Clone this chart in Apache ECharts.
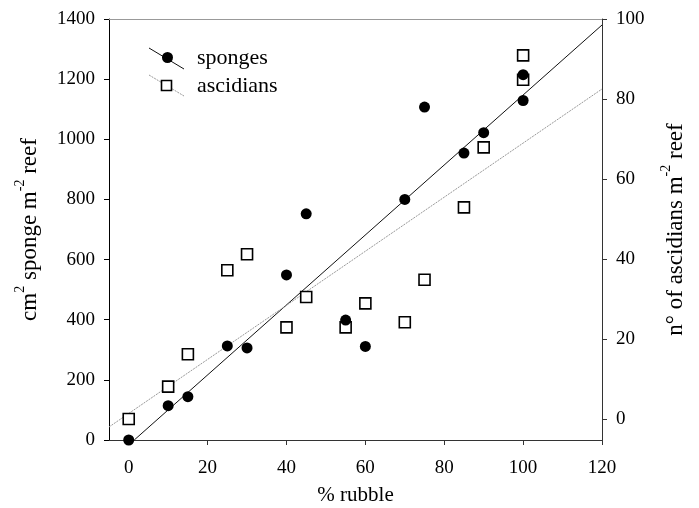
<!DOCTYPE html>
<html><head><meta charset="utf-8">
<script src="https://cdn.jsdelivr.net/npm/echarts@6/dist/echarts.min.js"></script>
<style>html,body{margin:0;padding:0;background:#fff}#c{width:699px;height:508px}</style>
</head><body><div id="c"></div>
<script>
// data
const spongeRubble = [0,10,15,25,30,40,45,55,60,70,75,85,90,100,100];
const spongeCover  = [0,114,144,313,306,549,752,399,311,800,1107,954,1022,1215,1129];
const ascRubble    = [0,10,15,25,30,40,45,55,60,70,75,85,90,100,100];
const ascDensity   = [0,8.1,16.2,37.2,41.2,22.9,30.5,22.9,28.9,24.2,34.8,52.9,67.9,84.8,90.9];
const spongeFitX = [1.4,120];
const spongeFitY = [0,1380];
const ascFitX = [-5,120];
const ascFitY = [-2,82.5];
const xTicks = [0,20,40,60,80,100,120];
const rightTicks = [0,20,40,60,80,100];

const FONT = '"Liberation Serif", "DejaVu Serif", serif';
const zip = (a,b) => a.map((v,i)=>[v,b[i]]);

const chart = echarts.init(document.getElementById('c'), null, {renderer:'canvas'});
const nameRich = {
  n:{fontFamily:FONT,fontSize:23,color:'#000',lineHeight:28,verticalAlign:'bottom'},
  s:{fontFamily:FONT,fontSize:14,color:'#000',lineHeight:28,verticalAlign:'top'}
};
chart.setOption({
  animation:false,
  backgroundColor:'#fff',
  grid:{left:109,right:97,top:19,bottom:68,containLabel:false,outerBoundsMode:'none'},
  xAxis:[{
    type:'value',min:-5,max:120,position:'bottom',
    name:'% rubble',nameLocation:'middle',nameGap:45,
    nameTextStyle:{fontFamily:FONT,fontSize:21,color:'#000'},
    axisLine:{show:true,lineStyle:{color:'#333',width:1}},
    axisTick:{show:true,inside:false,length:5,customValues:xTicks,lineStyle:{color:'#333'}},
    axisLabel:{customValues:xTicks,fontFamily:FONT,fontSize:19,color:'#000',margin:19},
    splitLine:{show:false}
  },{
    type:'value',min:-5,max:120,position:'top',
    axisLine:{show:true,onZero:false,lineStyle:{color:'#999',width:1}},
    axisTick:{show:false},axisLabel:{show:false},splitLine:{show:false}
  }],
  yAxis:[{
    type:'value',min:0,max:1400,interval:200,position:'left',
    name:'{n|cm}{s|2}{n| sponge m}{s|-2}{n| reef}',nameLocation:'middle',nameGap:68,nameRotate:90,
    nameTextStyle:{rich:nameRich},
    axisLine:{show:true,onZero:false,lineStyle:{color:'#000',width:1}},
    axisTick:{show:true,inside:false,length:5,lineStyle:{color:'#000'}},
    axisLabel:{fontFamily:FONT,fontSize:19,color:'#000',margin:14,formatter:v=>String(v)},
    splitLine:{show:false}
  },{
    type:'value',min:-5.25,max:100,position:'right',
    name:'{n|n° of ascidians m}{s|-2}{n| reef}',nameLocation:'middle',nameGap:57,nameRotate:90,
    nameTextStyle:{rich:nameRich},
    axisLine:{show:true,onZero:false,lineStyle:{color:'#333',width:1}},
    axisTick:{show:true,inside:false,length:5,customValues:rightTicks,lineStyle:{color:'#333'}},
    axisLabel:{customValues:rightTicks,fontFamily:FONT,fontSize:19,color:'#000',margin:14},
    splitLine:{show:false}
  }],
  series:[
    {type:'line',name:'sponge fit',xAxisIndex:0,yAxisIndex:0,data:zip(spongeFitX,spongeFitY),
     showSymbol:false,symbol:'none',lineStyle:{color:'#111',width:1},z:2,silent:true},
    {type:'line',name:'ascidian fit',xAxisIndex:0,yAxisIndex:1,data:zip(ascFitX,ascFitY),
     showSymbol:false,symbol:'none',lineStyle:{color:'#999',width:1,type:[2,1]},z:2,silent:true},
    {type:'scatter',name:'sponges',xAxisIndex:0,yAxisIndex:0,data:zip(spongeRubble,spongeCover),
     symbol:'circle',symbolSize:11,itemStyle:{color:'#000',opacity:1},z:4},
    {type:'scatter',name:'ascidians',xAxisIndex:0,yAxisIndex:1,data:zip(ascRubble,ascDensity),
     symbol:'rect',symbolSize:11,itemStyle:{color:'#fff',borderColor:'#000',borderWidth:1.6,opacity:1},z:3}
  ],
  graphic:[
    {type:'line',shape:{x1:149,y1:48,x2:184,y2:69},style:{stroke:'#111',lineWidth:1}},
    {type:'circle',shape:{cx:167.5,cy:57.5,r:5.5},style:{fill:'#000'}},
    {type:'text',left:197,top:47,style:{text:'sponges',font:'22px "Liberation Serif"',fill:'#000'}},
    {type:'line',shape:{x1:149,y1:75,x2:184,y2:96},style:{stroke:'#999',lineWidth:1,lineDash:[2,1]}},
    {type:'rect',shape:{x:161.5,y:80.5,width:10,height:10},style:{fill:'#fff',stroke:'#000',lineWidth:1.6}},
    {type:'text',left:197,top:75,style:{text:'ascidians',font:'22px "Liberation Serif"',fill:'#000'}}
  ]
});
</script></body></html>
